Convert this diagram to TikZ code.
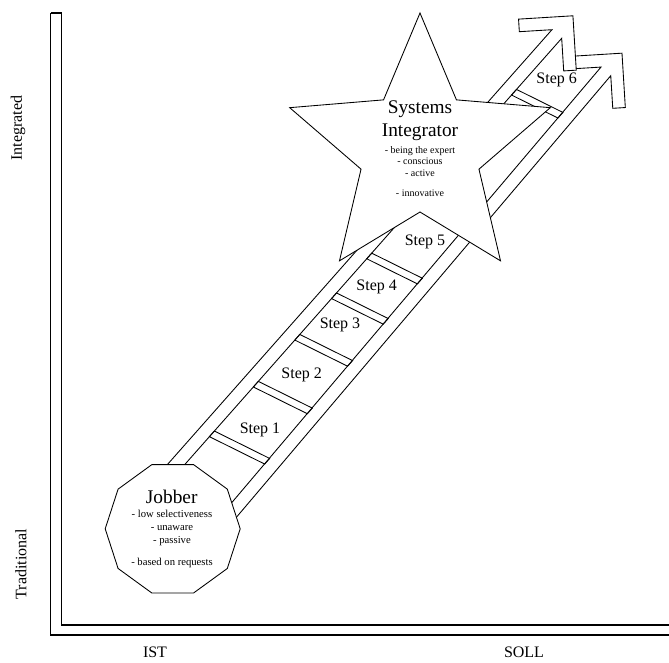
\documentclass[tikz,border=0pt]{standalone}
\usepackage{fontspec}
\setmainfont{Liberation Serif}
\usetikzlibrary{shapes.geometric}

\begin{document}
\begin{tikzpicture}[x=0.75pt,y=-0.75pt,
  outline/.style={draw, line width=0.65pt, fill=white},
  rung/.style={draw, line width=0.65pt},
  axisline/.style={draw, line width=0.8pt},
  steplabel/.style={font=\fontsize{12}{14}\selectfont, inner sep=0pt},
  axislabel/.style={font=\fontsize{12}{14}\selectfont, inner sep=0pt},
  title/.style={font=\fontsize{14.5}{17.25}\selectfont, align=center, inner sep=0pt},
  bullets/.style={align=center, inner sep=0pt}
]
\useasboundingbox (0,0) rectangle (669,662);

% Axes
\draw[axisline] (50.7,13) -- (61.5,13);
\draw[axisline] (50.7,13) -- (50.7,635) -- (669,635);
\draw[axisline] (61.5,13) -- (61.5,625) -- (669,625);

\node[axislabel, rotate=90] (integrated) at (18,128) {Integrated};
\node[axislabel, rotate=90] (traditional) at (21,564) {Traditional};
\node[axislabel] (ist) at (155,652) {IST};
\node[axislabel] (soll) at (524,652) {SOLL};

% Ladder, in a frame along the rails
\begin{scope}[x={(0.497pt,0.562pt)}, y={(0.562pt,-0.497pt)}]
  % lower rail
  \draw[outline] (-250,507) -- (347.8,494.5) -- (324.7,471.4) -- (333.6,462.5)
    -- (372.1,501) -- (333.6,539.5) -- (324.7,530.6) -- (347.8,507.5)
    -- (-250,520) -- cycle;
  % upper rail
  \draw[outline] (-250,433) -- (343.3,433) -- (320.2,409.9) -- (329.1,401)
    -- (367.6,439.5) -- (329.1,478) -- (320.2,469.1) -- (343.3,446)
    -- (-250,446) -- cycle;
  % rungs
  \foreach \sl in {-180.8,-114.5,-51.9,3.5,56.6,275.1}{
    \pgfmathsetmacro{\tr}{507-0.0209*(\sl+250)}
    \pgfmathsetmacro{\sr}{\sl+0.27*(\tr-446)}
    \draw[rung] (\sl,446) -- (\sr,\tr) -- (\sr-7.5,\tr) -- (\sl-7.5,446) -- cycle;
  }
\end{scope}

% Jobber
\node[outline, regular polygon, regular polygon sides=10,
  minimum size=101.25pt, inner sep=0pt] (jobber) at (172.7,528.8) {};
\node[title] (jobber title) at (171.7,496.7) {Jobber};
\node[bullets, font=\fontsize{8}{9.75}\selectfont] (jobber list) at (172,539)
  {- low selectiveness\\- unaware\\- passive\\[6.75pt]- based on requests};

% Systems Integrator
\node[outline, star, star points=5, star point ratio=2.21,
  minimum size=205.5pt, inner sep=0pt] (integrator) at (420,150) {};
\node[title] (integrator title) at (420,121) {Systems\\Integrator};
\node[bullets, font=\fontsize{7.5}{8.6}\selectfont] (integrator list) at (420,171.5)
  {- being the expert\\- conscious\\- active\\[6.4pt]- innovative};

% Steps
\node[steplabel] (step1) at (260,430) {Step 1};
\node[steplabel] (step2) at (301.7,375) {Step 2};
\node[steplabel] (step3) at (340,325) {Step 3};
\node[steplabel] (step4) at (376.7,286.7) {Step 4};
\node[steplabel] (step5) at (425,241.7) {Step 5};
\node[steplabel] (step6) at (556.7,80) {Step 6};

\end{tikzpicture}
\end{document}
